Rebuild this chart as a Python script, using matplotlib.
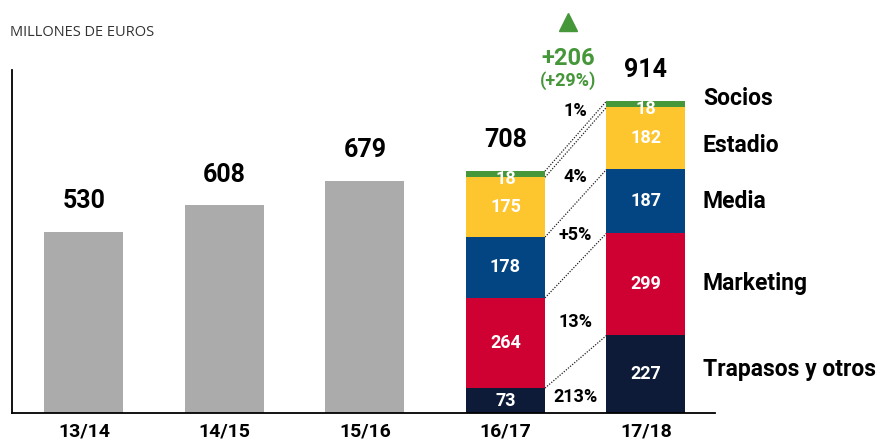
import matplotlib
matplotlib.use("Agg")
import matplotlib.pyplot as plt

plt.rcParams['font.family'] = ['Roboto', 'DejaVu Sans']

# datos (millones de euros)
temporadas = ['13/14', '14/15', '15/16', '16/17', '17/18']
totales = [530, 608, 679, 708, 914]

conceptos = ['Trapasos y otros', 'Marketing', 'Media', 'Estadio', 'Socios']
valores_1617 = [73, 264, 178, 175, 18]
valores_1718 = [227, 299, 187, 182, 18]
variaciones = ['213%', '13%', '+5%', '4%', '1%']
incremento = '+206'
incremento_pct = '(+29%)'

colores = ['#0d1b38', '#cf0032', '#034582', '#fdc52e', '#46963a']
gris = '#ababab'
verde = '#46963a'

W, H = 883, 441
fig = plt.figure(figsize=(W / 100, H / 100), dpi=100)
base_px, top_px = 413, 70
ax = fig.add_axes([12 / W, (H - base_px) / H, (715 - 12) / W, (base_px - top_px) / H])
px_unit = 0.3416
ax.set_ylim(0, (base_px - top_px) / px_unit)
ax.set_xlim(-72 / 140.5, (715 - 84) / 140.5)

ancho = 79 / 140.5
x = list(range(len(temporadas)))

# barras grises
ax.bar(x[:3], totales[:3], width=ancho, color=gris, zorder=2)

# barras apiladas
for xi, vals in ((3, valores_1617), (4, valores_1718)):
    fondo = 0
    for v, c in zip(vals, colores):
        ax.bar(xi, v, bottom=fondo, width=ancho, color=c, zorder=2)
        ax.text(xi, fondo + v / 2 - (13 if v < 30 else 0), str(v), ha='center', va='center',
                color='white', fontsize=13, fontweight='bold', zorder=3)
        fondo += v

# lineas punteadas de conexion
cum_a, cum_b = 0, 0
for a, b in zip(valores_1617, valores_1718):
    cum_a += a
    cum_b += b
    ax.plot([3 + ancho / 2, 4 - ancho / 2], [cum_a, cum_b], color='#222222',
            linestyle=(0, (1, 1.2)), linewidth=0.9, zorder=1)

# variaciones
y_var = [47, 266, 521, 691, 884]
for txt, yv in zip(variaciones, y_var):
    ax.text(3.495, yv, txt, ha='center', va='center', fontsize=13,
            fontweight='bold', color='black')

# totales
for xi, t in zip(x, totales):
    ax.text(xi, t + 90, str(t), ha='center', va='center', fontsize=18,
            fontweight='bold', color='black')

# incremento
ax.plot([3.445], [1145], marker='^', markersize=13, color=verde, clip_on=False)
ax.text(3.445, 1039, incremento, ha='center', va='center', fontsize=17,
        fontweight='bold', color=verde)
ax.text(3.445, 972, incremento_pct, ha='center', va='center', fontsize=13,
        fontweight='bold', color=verde)

# nombres de conceptos
x_nom = (703 - 84) / 140.5
y_nom = [128, 378, 619, 784, 920]
for nom, yn in zip(conceptos, y_nom):
    ax.text(x_nom, yn, nom, ha='left', va='center', fontsize=16.5,
            fontweight='bold', color='black')

ax.set_xticks(x)
ax.set_xticklabels(temporadas, fontsize=14, fontweight='bold')
ax.tick_params(axis='x', length=0, pad=7)
ax.set_yticks([])
for s in ('top', 'right'):
    ax.spines[s].set_visible(False)
ax.spines['left'].set_linewidth(1.3)
ax.spines['bottom'].set_linewidth(1.3)

fig.text(10 / W, 1 - 33 / H, 'MILLONES DE EUROS', ha='left', va='center',
         fontsize=10.5, color='#333333', family=['Open Sans', 'DejaVu Sans'])

fig.savefig('out.png', dpi=100)
